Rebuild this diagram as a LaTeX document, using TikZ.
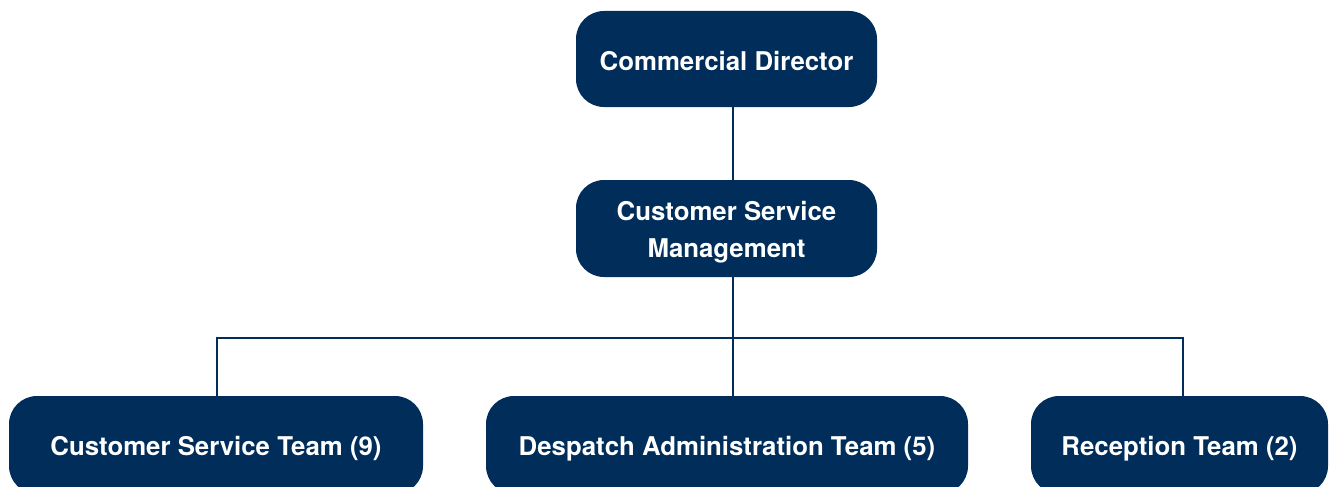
\documentclass[tikz,border=0pt]{standalone}
\usepackage{fontspec}
\setmainfont{TeX Gyre Heros}
\definecolor{navy}{HTML}{012D5A}
\begin{document}
\begin{tikzpicture}[x=1pt,y=-1pt,
  box/.style={fill=navy, rounded corners=28pt, text=white, align=center,
    inner sep=0pt, font=\bfseries\fontsize{25.8}{37}\selectfont},
  oneline/.style={text height=22.6pt, text depth=0pt},
  twoline/.style={text height=57pt, text depth=0pt},
  team/.style={box, minimum height=98pt, text height=20pt, text depth=0pt},
  link/.style={draw=navy, line width=2.2pt}]
\useasboundingbox (0,0) rectangle (1330,487);
\clip (0,0) rectangle (1330,487);

% vertical trunk position and branch level
\coordinate (trunk) at (733,0);
\coordinate (bar) at (0,338);

% boxes
\node[box, oneline, minimum width=301pt, minimum height=96pt] (cd) at (726.5,59) {Commercial Director};
\node[box, twoline, minimum width=301pt, minimum height=97pt] (csm) at (726.5,228.5) {Customer Service\\Management};
\node[team, minimum width=414pt] (cst) at (216,445) {Customer Service Team (9)};
\node[team, minimum width=482pt] (dat) at (727,445) {Despatch Administration Team (5)};
\node[team, minimum width=297pt] (rt) at (1179.5,445) {Reception Team (2)};

% connectors
\draw[link] (cd.south -| trunk) -- (csm.north -| trunk);
\draw[link] (csm.south -| trunk) -- (dat.north -| trunk);
\draw[link] (cst.north -| 217,0) -- (bar -| 217,0) -- (bar -| 1183,0) -- (rt.north -| 1183,0);
\end{tikzpicture}
\end{document}
